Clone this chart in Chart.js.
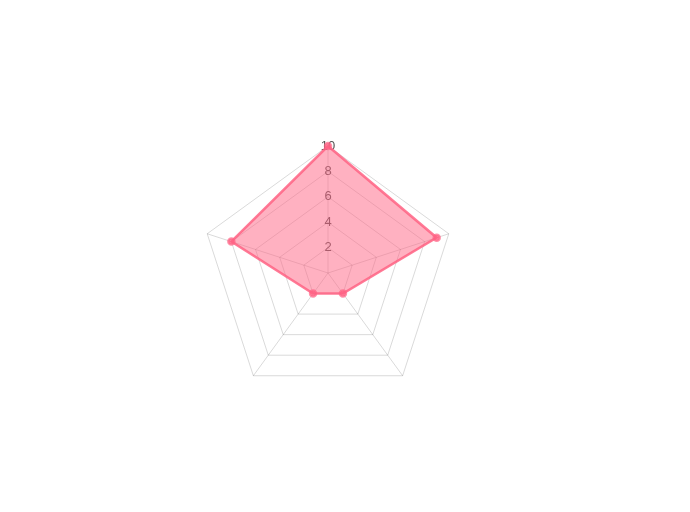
<!DOCTYPE html>
<html>
<head>
<meta charset="utf-8">
<script src="https://cdn.jsdelivr.net/npm/chart.js@4/dist/chart.umd.min.js"></script>
<style>
  html, body { margin: 0; padding: 0; background: #fff; }
  #wrap { position: relative; width: 690px; height: 512px; }
</style>
</head>
<body>
<div id="wrap"><canvas id="radar"></canvas></div>
<script>
// 축 라벨 (그림에는 표시되지 않음)
const axisLabels = ['A', 'B', 'C', 'D', 'E'];
// 데이터 값
const seriesValues = [10, 9, 2, 2, 8];
// 눈금 설정
const scaleMax = 10;
const scaleStep = 2;

const ctx = document.getElementById('radar');

new Chart(ctx, {
  type: 'radar',
  data: {
    labels: axisLabels,
    datasets: [
      {
        label: 'Series',
        data: seriesValues,
        backgroundColor: 'rgba(255, 99, 132, 0.5)',
        borderColor: 'rgba(255, 99, 132, 0.85)',
        borderWidth: 2.5,
        pointBackgroundColor: 'rgba(255, 99, 132, 0.7)',
        pointBorderColor: 'rgba(255, 99, 132, 0.7)',
        pointRadius: 3,
      },
    ],
  },
  options: {
    responsive: true,
    maintainAspectRatio: false,
    animation: false,
    layout: {
      padding: { left: 177, right: 211, top: 137, bottom: 103 },
    },
    plugins: {
      legend: { display: false },
      tooltip: { enabled: false },
    },
    scales: {
      r: {
        min: 0,
        max: scaleMax,
        ticks: {
          stepSize: scaleStep,
          showLabelBackdrop: false,
          color: '#555',
          font: { size: 13 },
        },
        pointLabels: { display: false },
        grid: { color: 'rgba(0, 0, 0, 0.15)' },
        angleLines: { color: 'rgba(0, 0, 0, 0.15)' },
      },
    },
  },
});
</script>
</body>
</html>
